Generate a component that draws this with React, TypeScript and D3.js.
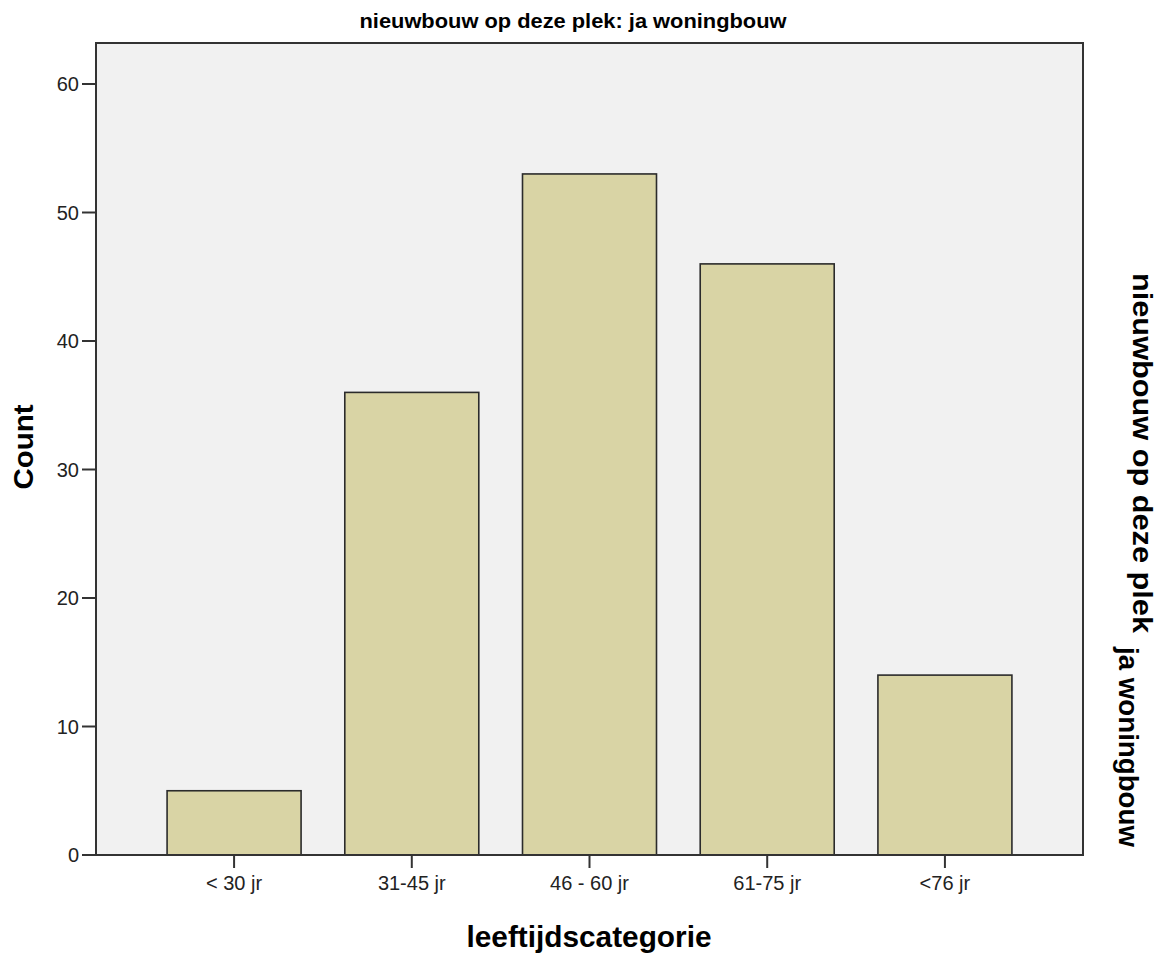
import React from "react";
import * as d3 from "d3";

const categories = ["< 30 jr", "31-45 jr", "46 - 60 jr", "61-75 jr", "<76 jr"];
const counts = [5, 36, 53, 46, 14];
const yTicks = [0, 10, 20, 30, 40, 50, 60];
const titleText = "nieuwbouw op deze plek: ja woningbouw";
const xTitle = "leeftijdscategorie";
const yTitle = "Count";
const panelLines = ["nieuwbouw op deze plek", "ja woningbouw"];

const W = 1162;
const H = 954;
const plot = { left: 96, right: 1083, top: 43, bottom: 855 };
const FONT = "Arial, 'Liberation Sans', Helvetica, sans-serif";

export default function App() {
  const x = d3
    .scaleBand<string>()
    .domain(categories)
    .range([plot.left, plot.right])
    .paddingInner(0.246)
    .paddingOuter(0.4);
  const y = d3.scaleLinear().domain([0, 60]).range([plot.bottom, 84]);

  return (
    <div style={{ position: "absolute", left: 0, top: 0 }}>
      <svg width={W} height={H} style={{ display: "block", background: "#fff" }} fontFamily={FONT}>
        <text x={573} y={28} textAnchor="middle" fontWeight="bold" fontSize={21} fill="#000" textLength={427} lengthAdjust="spacingAndGlyphs">
          {titleText}
        </text>
        <rect
          x={plot.left}
          y={plot.top}
          width={plot.right - plot.left}
          height={plot.bottom - plot.top}
          fill="#f1f1f1"
          stroke="none"
        />
        {categories.map((c, i) => (
          <rect
            key={c}
            x={x(c)!}
            y={y(counts[i])}
            width={x.bandwidth()}
            height={y(0) - y(counts[i])}
            fill="#d9d4a5"
            stroke="#2b2b2b"
            strokeWidth={1.6}
          />
        ))}
        <rect
          x={plot.left}
          y={plot.top}
          width={plot.right - plot.left}
          height={plot.bottom - plot.top}
          fill="none"
          stroke="#333"
          strokeWidth={2}
        />
        {yTicks.map((t) => (
          <g key={t}>
            <line x1={82} x2={plot.left} y1={y(t)} y2={y(t)} stroke="#333" strokeWidth={2} />
            <text x={79} y={y(t)} dy="0.36em" textAnchor="end" fontSize={20} fill="#222">
              {t}
            </text>
          </g>
        ))}
        {categories.map((c) => {
          const cx = x(c)! + x.bandwidth() / 2;
          return (
            <g key={c}>
              <line x1={cx} x2={cx} y1={plot.bottom} y2={868} stroke="#333" strokeWidth={2} />
              <text x={cx} y={890} textAnchor="middle" fontSize={20} fill="#222">
                {c}
              </text>
            </g>
          );
        })}
        <text x={589} y={947} textAnchor="middle" fontWeight="bold" fontSize={29} fill="#000" textLength={245} lengthAdjust="spacingAndGlyphs">
          {xTitle}
        </text>
        <text
          transform={`translate(33,447) rotate(-90)`}
          textAnchor="middle"
          fontWeight="bold"
          fontSize={28}
          fill="#000"
          textLength={85}
          lengthAdjust="spacingAndGlyphs"
        >
          {yTitle}
        </text>
        <text transform={`translate(1133,273) rotate(90)`} fontWeight="bold" fontSize={27} fill="#000" textLength={360} lengthAdjust="spacingAndGlyphs">
          {panelLines[0]}
        </text>
        <text transform={`translate(1119,647) rotate(90)`} fontWeight="bold" fontSize={27} fill="#000" textLength={200} lengthAdjust="spacingAndGlyphs">
          {panelLines[1]}
        </text>
      </svg>
    </div>
  );
}
